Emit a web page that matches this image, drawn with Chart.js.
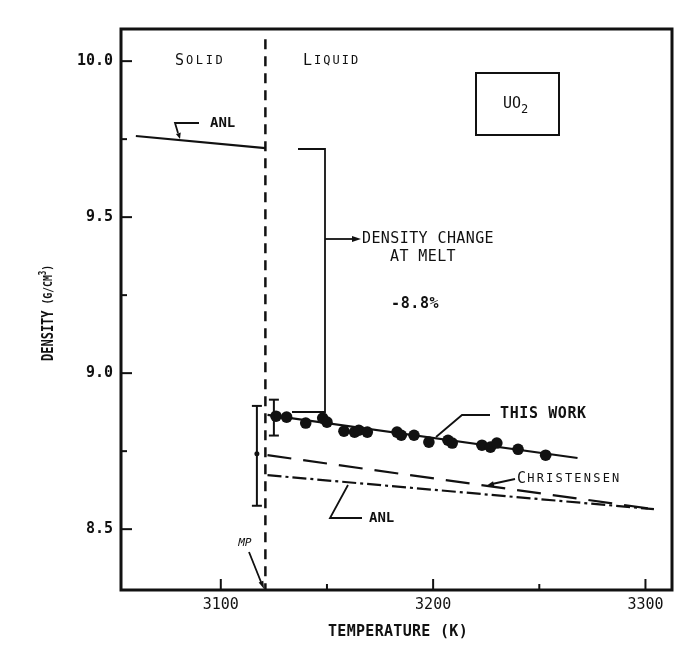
<!DOCTYPE html>
<html>
<head>
<meta charset="utf-8">
<script src="https://cdn.jsdelivr.net/npm/chart.js@4.4.1/dist/chart.umd.min.js"></script>
<style>
  html, body { margin: 0; padding: 0; background: #fff; }
  #wrap { width: 700px; height: 653px; }
</style>
</head>
<body>
<div id="wrap"><canvas id="chart" width="700" height="653"></canvas></div>
<script>
// UO2 density around the melting point
const thisWorkT = [3126, 3131, 3140, 3148, 3150, 3158, 3163, 3165, 3169, 3183, 3185, 3191, 3198, 3207, 3209, 3223, 3227, 3230, 3240, 3253];
const thisWorkD = [8.862, 8.859, 8.840, 8.856, 8.843, 8.814, 8.811, 8.817, 8.811, 8.811, 8.801, 8.801, 8.779, 8.785, 8.776, 8.769, 8.763, 8.776, 8.756, 8.737];
const fitT = [3122, 3268];
const fitD = [8.866, 8.728];
const christensenT = [3122, 3304];
const christensenD = [8.737, 8.564];
const anlLiquidT = [3122, 3304];
const anlLiquidD = [8.673, 8.564];
const anlSolidT = [3060, 3121];
const anlSolidD = [9.760, 9.721];
const meltT = 3121;

// error bars drawn at the melting point
const errT = [3117, 3125];
const errLo = [8.575, 8.800];
const errHi = [8.895, 8.915];
const errMid = [8.742, null];

const xTicks = [3100, 3150, 3200, 3250, 3300];
const xLabels = ["3100", "", "3200", "", "3300"];
const yTicks = [8.5, 8.75, 9.0, 9.25, 9.5, 9.75, 10.0];
const yLabels = ["8.5", "", "9.0", "", "9.5", "", "10.0"];

const MONO = "'DejaVu Sans Mono', monospace";
const INK = "#111";

const pts = (xs, ys) => xs.map((x, i) => ({ x: x, y: ys[i] }));

function runText(ctx, x, y, parts) {
  parts.forEach(([s, font, sp, dy]) => {
    ctx.font = font + " " + MONO;
    for (const ch of s) {
      ctx.fillText(ch, x, y + (dy || 0));
      x += ctx.measureText(ch).width + (sp || 0);
    }
  });
  return x;
}

function line(ctx, coords) {
  ctx.beginPath();
  ctx.moveTo(coords[0], coords[1]);
  for (let i = 2; i < coords.length; i += 2) ctx.lineTo(coords[i], coords[i + 1]);
  ctx.stroke();
}

function arrowHead(ctx, fx, fy, tx, ty, len, half) {
  const a = Math.atan2(ty - fy, tx - fx);
  ctx.beginPath();
  ctx.moveTo(tx, ty);
  ctx.lineTo(tx - len * Math.cos(a) + half * Math.sin(a), ty - len * Math.sin(a) - half * Math.cos(a));
  ctx.lineTo(tx - len * Math.cos(a) - half * Math.sin(a), ty - len * Math.sin(a) + half * Math.cos(a));
  ctx.closePath();
  ctx.fill();
}

const decorPlugin = {
  id: "decor",
  afterDatasetsDraw(chart) {
    const ctx = chart.ctx;
    const a = chart.chartArea;
    const xs = chart.scales.x, ys = chart.scales.y;
    ctx.save();
    ctx.strokeStyle = INK;
    ctx.fillStyle = INK;
    ctx.lineCap = "butt";

    // frame
    ctx.lineWidth = 3;
    ctx.strokeRect(a.left, a.top, a.right - a.left, a.bottom - a.top);

    // inward ticks
    ctx.lineWidth = 2;
    yTicks.forEach((v, i) => {
      const y = ys.getPixelForValue(v);
      const len = yLabels[i] ? 11 : 6;
      line(ctx, [a.left, y, a.left + len, y]);
    });
    xTicks.forEach((v, i) => {
      const x = xs.getPixelForValue(v);
      const len = xLabels[i] ? 11 : 6;
      line(ctx, [x, a.bottom, x, a.bottom - len]);
    });

    // error bars
    ctx.lineWidth = 2;
    errT.forEach((t, i) => {
      const x = xs.getPixelForValue(t);
      const y1 = ys.getPixelForValue(errHi[i]);
      const y2 = ys.getPixelForValue(errLo[i]);
      line(ctx, [x, y1, x, y2]);
      line(ctx, [x - 5, y1, x + 5, y1]);
      line(ctx, [x - 5, y2, x + 5, y2]);
      if (errMid[i] != null) {
        ctx.beginPath();
        ctx.arc(x, ys.getPixelForValue(errMid[i]), 2.5, 0, Math.PI * 2);
        ctx.fill();
      }
    });

    // leaders
    ctx.lineWidth = 1.8;
    // ANL (solid)
    line(ctx, [199, 123, 175, 123, 178, 133]);
    arrowHead(ctx, 176, 125, 180, 139, 6, 2.5);
    // density change bracket
    line(ctx, [298, 149, 325, 149, 325, 412, 292, 412]);
    line(ctx, [325, 239, 352, 239]);
    arrowHead(ctx, 325, 239, 361, 239, 9, 3);
    // this work
    line(ctx, [490, 415, 462, 415, 436, 437]);
    // christensen
    line(ctx, [515, 479, 492, 484]);
    arrowHead(ctx, 515, 479, 486, 486, 8, 3);
    // ANL (liquid)
    line(ctx, [362, 518, 330, 518, 348, 485]);
    // MP
    line(ctx, [249, 552, 261, 582]);
    arrowHead(ctx, 249, 552, 264, 589, 8, 2.5);

    // UO2 box
    ctx.lineWidth = 2;
    ctx.strokeRect(476, 73, 83, 62);

    // texts
    ctx.textBaseline = "middle";
    ctx.textAlign = "left";
    runText(ctx, 175, 61, [["S", "15px", 2], ["OLID", "12px", 2.6]]);
    runText(ctx, 303, 61, [["L", "15px", 2], ["IQUID", "12px", 2]]);
    runText(ctx, 210, 123, [["ANL", "bold 14px", 0]]);
    runText(ctx, 503, 104, [["UO", "15px", 0], ["2", "12px", 0, 6]]);
    runText(ctx, 362, 239, [["DENSITY CHANGE", "15px", 0.4]]);
    runText(ctx, 390, 257, [["AT MELT", "15px", 0.4]]);
    runText(ctx, 391, 304, [["-8.8%", "bold 15px", 0.6]]);
    runText(ctx, 500, 414, [["THIS WORK", "bold 15px", 0.6]]);
    runText(ctx, 517, 479, [["C", "15px", 1.2], ["HRISTENSEN", "12px", 2.2]]);
    runText(ctx, 369, 518, [["ANL", "bold 14px", 0]]);
    ctx.save();
    ctx.translate(238, 543);
    ctx.transform(1, 0, -0.2, 1, 0, 0);
    runText(ctx, 0, 0, [["MP", "11px", 0]]);
    ctx.restore();

    // axis titles
    runText(ctx, 328, 632, [["TEMPERATURE (K)", "bold 15px", 0.3]]);
    ctx.save();
    ctx.translate(49, 361);
    ctx.rotate(-Math.PI / 2);
    ctx.scale(0.75, 1);
    runText(ctx, 0, 0, [["DENSITY", "bold 16px", 0], [" (G/CM", "bold 13px", 0], ["3", "bold 10px", 0, -6], [")", "bold 13px", 0]]);
    ctx.restore();

    ctx.restore();
  }
};

new Chart(document.getElementById("chart"), {
  type: "scatter",
  data: {
    datasets: [
      {
        label: "This work",
        data: pts(thisWorkT, thisWorkD),
        pointRadius: 5.8,
        pointBackgroundColor: INK,
        pointBorderWidth: 0,
        showLine: false
      },
      {
        label: "This work fit",
        data: pts(fitT, fitD),
        showLine: true, pointRadius: 0, borderColor: INK, borderWidth: 2.2
      },
      {
        label: "Christensen",
        data: pts(christensenT, christensenD),
        showLine: true, pointRadius: 0, borderColor: INK, borderWidth: 2.2,
        borderDash: [24, 12]
      },
      {
        label: "ANL liquid",
        data: pts(anlLiquidT, anlLiquidD),
        showLine: true, pointRadius: 0, borderColor: INK, borderWidth: 2.2,
        borderDash: [14, 4, 3, 4]
      },
      {
        label: "ANL solid",
        data: pts(anlSolidT, anlSolidD),
        showLine: true, pointRadius: 0, borderColor: INK, borderWidth: 2.2
      },
      {
        label: "MP",
        data: [{ x: meltT, y: 10.07 }, { x: meltT, y: 8.305 }],
        showLine: true, pointRadius: 0, borderColor: INK, borderWidth: 2.5,
        borderDash: [10, 7]
      }
    ]
  },
  options: {
    responsive: false,
    animation: false,
    devicePixelRatio: 1,
    layout: { padding: { top: 29, right: 28, left: 0, bottom: 0 } },
    plugins: { legend: { display: false }, tooltip: { enabled: false } },
    scales: {
      x: {
        type: "linear",
        min: 3053,
        max: 3312.5,
        afterBuildTicks: s => { s.ticks = xTicks.map(v => ({ value: v })); },
        afterFit: s => { s.height = 63; },
        grid: { display: false, drawTicks: false },
        border: { display: false },
        ticks: {
          color: INK,
          padding: 6,
          maxRotation: 0,
          autoSkip: false,
          font: { family: MONO, size: 15 },
          callback: v => xLabels[xTicks.indexOf(v)] || ""
        }
      },
      y: {
        type: "linear",
        min: 8.305,
        max: 10.103,
        afterBuildTicks: s => { s.ticks = yTicks.map(v => ({ value: v })); },
        afterFit: s => { s.width = 121; },
        grid: { display: false, drawTicks: false },
        border: { display: false },
        ticks: {
          color: INK,
          padding: 8,
          autoSkip: false,
          font: { family: MONO, size: 15, weight: "bold" },
          callback: v => yLabels[yTicks.indexOf(v)] || ""
        }
      }
    }
  },
  plugins: [decorPlugin]
});
</script>
</body>
</html>
